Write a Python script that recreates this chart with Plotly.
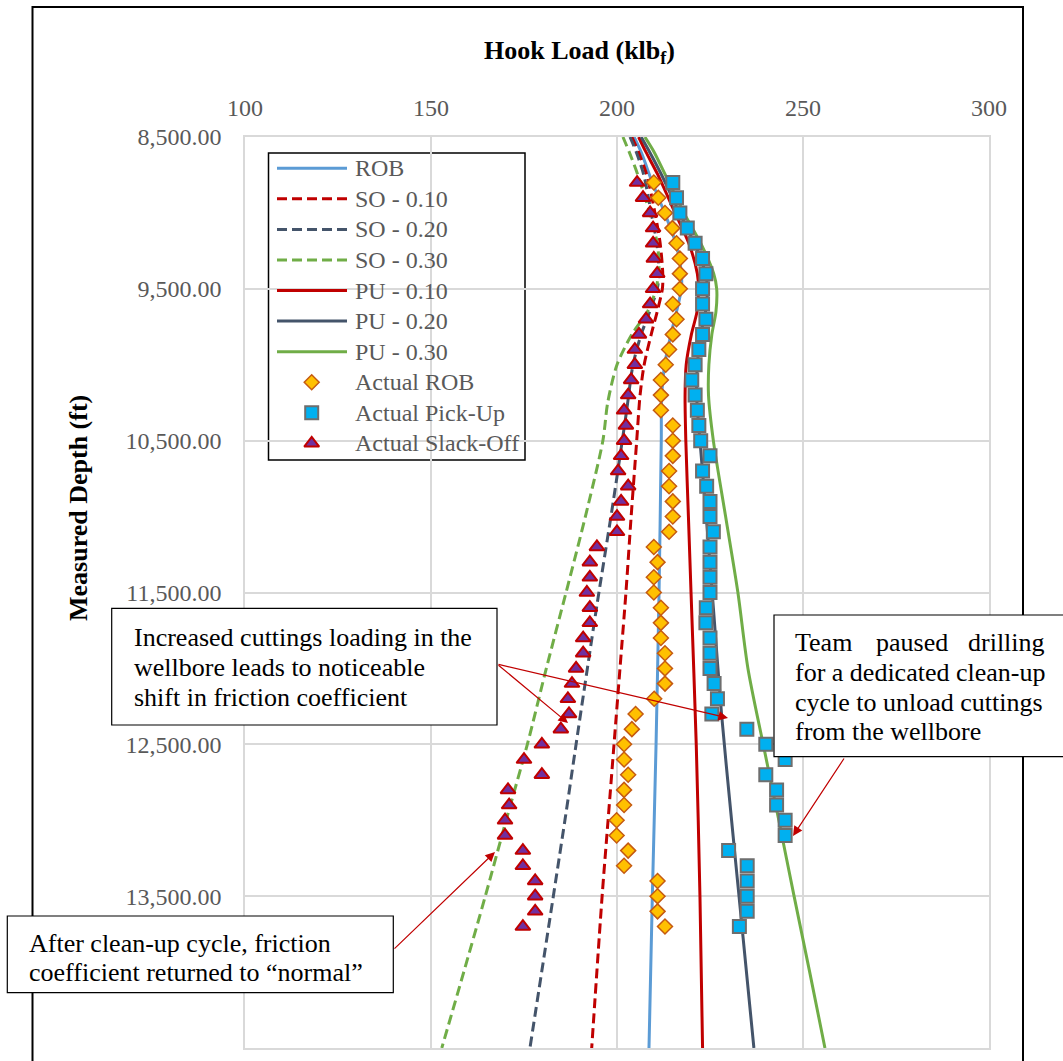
import plotly.graph_objects as go

# ---------------- model curves (depth in ft, hook load in klbf) ----------------
rob_md = [8500, 8600, 8800, 9000, 9200, 9400, 9500, 9650, 9800, 10000, 10200, 10500, 11500, 12500, 13500, 14500]
rob_load = [204.6, 206.5, 209.5, 212.8, 215.8, 217.3, 217.3, 216.0, 214.5, 212.8, 212.0, 211.9, 211.3, 210.5, 209.5, 208.6]

so10_md = [8500, 8600, 8750, 9000, 9200, 9400, 9500, 9650, 9800, 10000, 10200, 10500, 11000, 11500, 12000, 12500, 13000, 13500, 14500]
so10_load = [204.0, 205.8, 208.0, 210.2, 211.6, 212.3, 212.2, 210.8, 209.2, 207.3, 206.2, 205.3, 203.8, 202.4, 200.8, 199.2, 197.6, 196.0, 193.2]

so20_md = [8500, 8600, 8750, 9000, 9200, 9400, 9500, 9650, 9800, 10000, 10300, 10900, 11600, 12400, 13000, 14500]
so20_load = [203.5, 205.2, 207.2, 209.2, 210.7, 211.3, 210.8, 208.8, 206.5, 204.3, 202.6, 199.0, 194.5, 189.6, 186.0, 176.6]

so30_md = [8500, 8600, 8750, 9000, 9200, 9350, 9500, 9650, 9800, 10000, 10250, 10500, 11000, 11500, 12000, 12500, 13000, 13500, 14000, 14500]
so30_load = [201.6, 203.3, 205.6, 208.8, 210.8, 211.3, 210.5, 208.2, 204.0, 200.0, 197.5, 196.2, 191.5, 186.3, 181.0, 175.9, 170.2, 164.6, 158.8, 152.9]

pu10_md = [8500, 8600, 8750, 9000, 9200, 9400, 9500, 9650, 9800, 10000, 10200, 10500, 11000, 11500, 12500, 13500, 14500]
pu10_load = [205.8, 207.8, 211.0, 215.6, 219.3, 221.6, 221.9, 221.5, 220.0, 218.6, 218.3, 218.5, 219.2, 219.9, 221.3, 222.3, 223.0]

pu20_md = [8500, 8600, 8750, 9000, 9200, 9400, 9500, 9650, 9800, 10000, 10200, 10500, 11000, 11600, 12300, 13000, 13500, 14500]
pu20_load = [206.5, 208.8, 212.0, 216.8, 220.8, 223.8, 224.3, 223.8, 222.5, 221.6, 221.4, 222.3, 224.0, 225.9, 228.1, 230.8, 232.8, 236.8]

pu30_md = [8500, 8600, 8750, 9000, 9200, 9400, 9500, 9650, 9800, 10000, 10200, 10500, 11000, 11500, 12000, 12500, 13000, 13500, 14000, 14500]
pu30_load = [207.5, 210.0, 213.0, 218.0, 222.5, 226.0, 226.8, 226.6, 225.5, 224.7, 224.6, 225.9, 229.2, 232.5, 235.2, 239.3, 243.5, 247.6, 251.8, 255.9]

# ---------------- field measurements ----------------
actual_md = [8800, 8900, 9000, 9100, 9200, 9300, 9400, 9500, 9600, 9700,
             9800, 9900, 10000, 10100, 10200, 10300, 10400, 10500, 10600, 10700,
             10800, 10900, 11000, 11100, 11200, 11300, 11400, 11500, 11600, 11700,
             11800, 11900, 12000, 12100, 12200, 12300, 12400, 12500, 12600, 12700,
             12800, 12900, 13000, 13100, 13200, 13300, 13400, 13500, 13600, 13700]

actual_rob = [209.9, 211.1, 212.9, 214.9, 216.0, 216.9, 216.9, 216.9, 215.0, 216.0,
              215.0, 214.0, 213.1, 211.8, 211.8, 211.8, 215.0, 215.0, 215.0, 214.0,
              214.0, 215.0, 215.0, 214.0, 209.9, 210.9, 209.9, 209.9, 211.8, 211.8,
              211.8, 212.9, 212.9, 212.9, 210.0, 205.0, 204.0, 201.9, 201.9, 203.0,
              201.9, 201.9, 199.9, 199.9, 203.0, 201.9, 210.9, 210.9, 210.9, 212.9]

actual_pu = [215.0, 216.0, 216.9, 218.9, 221.0, 223.0, 223.9, 223.0, 223.0, 223.9,
             223.0, 222.0, 221.0, 220.1, 221.0, 221.6, 222.0, 222.5, 225.0, 223.0,
             224.1, 225.0, 225.0, 225.9, 225.0, 225.0, 225.0, 225.0, 224.0, 223.9,
             225.0, 225.0, 225.0, 226.1, 227.0, 225.5, 234.9, 240.0, 245.2, 240.0,
             242.9, 242.9, 245.2, 245.2, 230.0, 235.0, 235.0, 235.0, 235.0, 232.9]

actual_so = [205.4, 207.0, 208.9, 209.7, 209.7, 209.9, 210.8, 209.7, 208.9, 207.8,
             205.9, 204.8, 204.8, 203.8, 203.0, 201.9, 202.4, 201.9, 201.1, 200.3,
             203.0, 201.1, 200.0, 200.0, 194.6, 192.7, 192.7, 191.9, 192.7, 192.7,
             190.9, 190.9, 189.0, 187.9, 186.8, 187.1, 184.9, 179.8, 175.0, 179.8,
             170.7, 171.0, 169.9, 169.9, 174.7, 174.7, 178.0, 178.0, 178.0, 174.7]

x_ticks = [100, 150, 200, 250, 300]
y_ticks = [8500, 9500, 10500, 11500, 12500, 13500, 14500]

SERIF = "Liberation Serif, Times New Roman, serif"
GRAY_TXT = "#595959"
ARROW_RED = "#C00000"
DASH = "10px,5px"

# plot-area pixel geometry used to place paper-referenced items
L, R, T, B = 245, 989, 137, 1048
W, H = R - L, B - T


def px(xp):
    return (xp - L) / W


def py(yp):
    return (B - yp) / H


def dx(xp):
    return 100 + (xp - L) / W * 200


def dy(yp):
    return 8500 + (yp - T) / H * 6000


fig = go.Figure()

model_lines = [
    ("ROB", rob_load, rob_md, "#5B9BD5", "solid"),
    ("SO - 0.10", so10_load, so10_md, "#C00000", DASH),
    ("SO - 0.20", so20_load, so20_md, "#44546A", DASH),
    ("SO - 0.30", so30_load, so30_md, "#70AD47", DASH),
    ("PU - 0.10", pu10_load, pu10_md, "#C00000", "solid"),
    ("PU - 0.20", pu20_load, pu20_md, "#44546A", "solid"),
    ("PU - 0.30", pu30_load, pu30_md, "#70AD47", "solid"),
]
for name, xs, ys, col, dash in model_lines:
    fig.add_trace(go.Scatter(
        x=xs, y=ys, name=name, mode="lines", showlegend=False,
        line=dict(color=col, width=3, dash=dash, shape="spline", smoothing=0.8),
    ))

marker_styles = [
    ("Actual ROB", actual_rob,
     dict(symbol="diamond", size=11.5, color="#FFC000", line=dict(color="#C55A11", width=1.5))),
    ("Actual Pick-Up", actual_pu,
     dict(symbol="square", size=13, color="#00B0F0", line=dict(color="#6E6E6E", width=2))),
    ("Actual Slack-Off", actual_so,
     dict(symbol="triangle-up", size=13, color="#7030A0", line=dict(color="#C00000", width=2))),
]
for name, xs, mk in marker_styles:
    fig.add_trace(go.Scatter(x=xs, y=actual_md, name=name, mode="markers",
                             marker=mk, showlegend=False))

# ---------------- legend (drawn in paper space) ----------------
leg_names = [m[0] for m in model_lines] + [m[0] for m in marker_styles]
leg_y = [168.3 + i * 30.56 for i in range(len(leg_names))]

shapes = [
    # outer chart frame
    dict(type="rect", xref="paper", yref="paper",
         x0=px(32.5), x1=px(1023), y0=py(1100), y1=py(7),
         line=dict(color="black", width=2), layer="below"),
    # legend box
    dict(type="rect", xref="paper", yref="paper",
         x0=px(268.5), x1=px(525), y0=py(460), y1=py(153),
         line=dict(color="black", width=1.5), fillcolor="white", layer="between"),
]
annotations = []
for i, (name, xs, ys, col, dash) in enumerate(model_lines):
    shapes.append(dict(type="line", xref="paper", yref="paper",
                       x0=px(277), x1=px(347), y0=py(leg_y[i]), y1=py(leg_y[i]),
                       line=dict(color=col, width=3, dash=dash), layer="above"))
for j, (name, xs, mk) in enumerate(marker_styles):
    k = len(model_lines) + j
    fig.add_trace(go.Scatter(x=[px(311.7)], y=[py(leg_y[k])], xaxis="x2", yaxis="y2",
                             mode="markers", marker=mk, showlegend=False, hoverinfo="skip"))
for i, name in enumerate(leg_names):
    annotations.append(dict(text=name, x=px(353), y=py(leg_y[i]), xref="paper", yref="paper",
                            xanchor="left", yanchor="middle", showarrow=False,
                            font=dict(family=SERIF, size=24, color=GRAY_TXT)))

# ---------------- titles ----------------
annotations += [
    dict(text="<b>Hook Load (klb<sub>f</sub>)</b>", x=px(579), y=py(52),
         xref="paper", yref="paper", xanchor="center", yanchor="middle", showarrow=False,
         font=dict(family=SERIF, size=26, color="black")),
    dict(text="<b>Measured Depth (ft)</b>", x=px(78), y=py(508),
         xref="paper", yref="paper", xanchor="center", yanchor="middle",
         showarrow=False, textangle=-90,
         font=dict(family=SERIF, size=26, color="black")),
]

# ---------------- call-out boxes ----------------
boxes = [(111.7, 608.3, 497, 725), (774, 615, 1100, 756.7), (7.3, 916, 393.3, 992.7)]
for x0, y0, x1, y1 in boxes:
    shapes.append(dict(type="rect", xref="paper", yref="paper",
                       x0=px(x0), x1=px(x1), y0=py(y1), y1=py(y0),
                       line=dict(color="black", width=1.2), fillcolor="white", layer="above"))

callout_lines = [
    ("Increased cuttings loading in the", 131.7, 637.5, "left"),
    ("wellbore leads to noticeable", 131.7, 667.5, "left"),
    ("shift in friction coefficient", 131.7, 697, "left"),
    ("Team", 793, 642, "left"),
    ("paused", 911.5, 642, "center"),
    ("drilling", 1047, 642, "right"),
    ("for a dedicated clean-up", 793, 672, "left"),
    ("cycle to unload cuttings", 793, 702, "left"),
    ("from the wellbore", 793, 731.5, "left"),
    ("After clean-up cycle, friction", 26.7, 943, "left"),
    ("coefficient returned to \u201cnormal\u201d", 26.7, 972, "left"),
]
for txt, xp, yp, anc in callout_lines:
    annotations.append(dict(text=txt, x=px(xp), y=py(yp), xref="paper", yref="paper",
                            xanchor=anc, yanchor="middle", showarrow=False,
                            font=dict(family=SERIF, size=26, color="black")))

# red pointer arrows: head -> tail, both in pixel positions mapped to data space
arrows = [
    ((568, 723), (497, 664)),
    ((728, 718), (497, 664)),
    ((793, 836), (845, 757)),
    ((495, 852), (393, 950)),
]
for (hx, hy), (tx, ty) in arrows:
    annotations.append(dict(
        x=dx(hx), y=dy(hy), ax=dx(tx), ay=dy(ty),
        xref="x", yref="y", axref="x", ayref="y", text="", showarrow=True,
        arrowhead=2, arrowsize=1.6, arrowwidth=1.2, arrowcolor=ARROW_RED,
    ))

fig.update_layout(
    width=1063, height=1061,
    margin=dict(l=L, r=1063 - R, t=T, b=1061 - B),
    paper_bgcolor="white", plot_bgcolor="white",
    showlegend=False,
    annotations=annotations,
    shapes=shapes,
    xaxis=dict(side="top", range=[100, 300], tickvals=x_ticks,
               showgrid=True, gridcolor="#D9D9D9", gridwidth=1.5,
               showline=True, linecolor="#D9D9D9", linewidth=1.5, mirror=True,
               zeroline=False, ticks="", ticklabelstandoff=10,
               tickfont=dict(family=SERIF, size=24, color=GRAY_TXT)),
    yaxis=dict(range=[14500, 8500], tickvals=y_ticks, tickformat=",.2f",
               showgrid=True, gridcolor="#D9D9D9", gridwidth=1.5,
               showline=True, linecolor="#D9D9D9", linewidth=1.5, mirror=True,
               zeroline=False, ticks="", ticklabelstandoff=17,
               tickfont=dict(family=SERIF, size=24, color=GRAY_TXT)),
    xaxis2=dict(overlaying="x", range=[0, 1], visible=False, fixedrange=True),
    yaxis2=dict(overlaying="y", range=[0, 1], visible=False, fixedrange=True),
)

fig.write_html("out.html")
